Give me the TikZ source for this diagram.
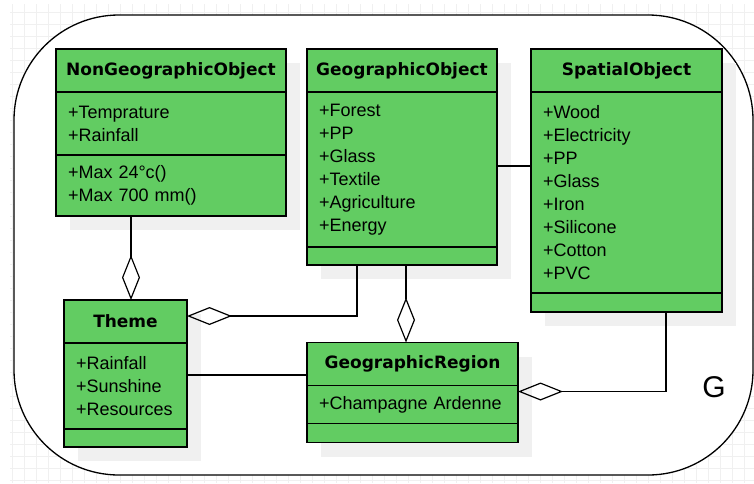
\documentclass[tikz,border=0pt]{standalone}
\usepackage{fontspec}
\setmainfont{Liberation Sans}
\newfontfamily\headfont{DejaVu Sans}
\usepackage{tikz}
\usetikzlibrary{arrows.meta, positioning, calc, backgrounds}
\usepackage{xcolor}
\definecolor{classcolor}{RGB}{98,204,98}
\definecolor{shadowcolor}{RGB}{240,240,240}
\definecolor{gridcolor}{RGB}{240,240,240}

\begin{document}
\begin{tikzpicture}[
    x=1pt, y=-1pt,
    head/.style={rectangle, draw, line width=1.4pt, fill=classcolor, minimum height=43pt, inner sep=0pt, outer sep=0pt, font=\headfont\bfseries\fontsize{17}{20}\selectfont},
    part/.style={rectangle, draw, line width=1.4pt, fill=classcolor, inner xsep=12pt, inner ysep=0pt, outer sep=0pt, align=left, font=\fontsize{18}{23}\selectfont},
    link/.style={line width=1.2pt},
    aggr/.style={link, {Diamond[open, length=45pt, width=18pt]}-}
]
\useasboundingbox (0,0) rectangle (754,483);

% classes
\node[head, minimum width=230pt] (ngo) at (171,70.5) {NonGeographicObject};
\node[part, text width=206pt, minimum height=63pt, below=0pt of ngo] (ngoattr) {+Temprature\\+Rainfall};
\node[part, text width=206pt, minimum height=61pt, below=0pt of ngoattr] (ngoops) {+Max 24°c()\\+Max 700 mm()};

\node[head, minimum width=190pt] (geo) at (402,70.5) {GeographicObject};
\node[part, text width=166pt, minimum height=155pt, below=0pt of geo] (geoattr) {+Forest\\+PP\\+Glass\\+Textile\\+Agriculture\\+Energy};
\node[part, text width=166pt, minimum height=18pt, below=0pt of geoattr] (geoops) {};

\node[head, minimum width=191pt] (spa) at (626.5,70.5) {SpatialObject};
\node[part, text width=167pt, minimum height=201pt, below=0pt of spa] (spaattr) {+Wood\\+Electricity\\+PP\\+Glass\\+Iron\\+Silicone\\+Cotton\\+PVC};
\node[part, text width=167pt, minimum height=19pt, below=0pt of spaattr] (spaops) {};

\node[head, minimum width=123pt] (theme) at (125.5,321.5) {Theme};
\node[part, text width=99pt, minimum height=86pt, below=0pt of theme] (themeattr) {+Rainfall\\+Sunshine\\+Resources};
\node[part, text width=99pt, minimum height=18pt, below=0pt of themeattr] (themeops) {};

\node[head, minimum width=211pt] (region) at (412.5,364) {GeographicRegion};
\node[part, text width=187pt, minimum height=38pt, below=0pt of region] (regionattr) {+Champagne Ardenne};
\node[part, text width=187pt, minimum height=19pt, below=0pt of regionattr] (regionops) {};

\node[font=\fontsize{30}{36}\selectfont] (glabel) at (714,387) {G};

% connectors
\draw[aggr] ([xshift=5.5pt]theme.north) -- ([xshift=5.5pt]theme.north |- ngoops.south);
\draw[aggr] ([xshift=-6.5pt]region.north) -- ([xshift=-6.5pt]region.north |- geoops.south);
\draw[aggr] ([yshift=5.5pt]theme.east) -| ([xshift=50pt]geoops.south west);
\draw[link] ([yshift=11pt]themeattr.east) -- ([yshift=11pt]themeattr.east -| region.west);
\draw[link] ([yshift=3.5pt]geoattr.east) -- ([yshift=3.5pt]geoattr.east -| spaattr.west);
\draw[aggr] ([yshift=13pt]regionattr.east) -| ([xshift=39.5pt]spaops.south);

% package frame, grid and shadows
\begin{scope}[on background layer]
\draw[gridcolor, line width=0.7pt, step=12pt] (10,4) grid (754,483);
\draw[line width=1.3pt, fill=white, rounded corners=105pt] (14,15) rectangle (753,475);
\foreach \top/\bot in {ngo/ngoops, geo/geoops, spa/spaops, theme/themeops, region/regionops}
    \fill[shadowcolor] ($(\top.north west)+(14,14)$) rectangle ($(\bot.south east)+(14,14)$);
\end{scope}
\end{tikzpicture}
\end{document}
